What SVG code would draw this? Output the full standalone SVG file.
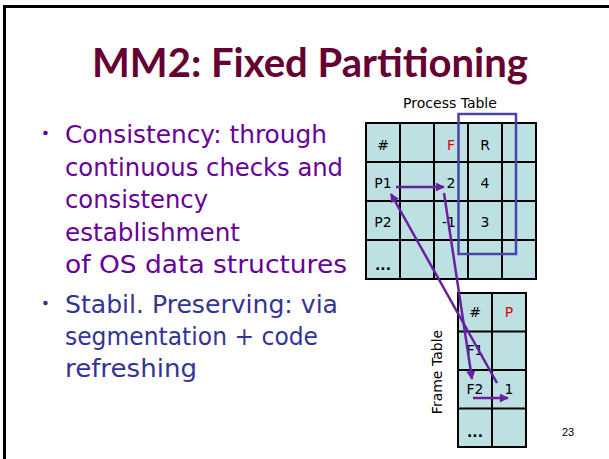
<svg xmlns="http://www.w3.org/2000/svg" width="609" height="459" viewBox="0 0 609 459">
  <style>
    .title { font-family: Lato, "DejaVu Sans", sans-serif; font-weight: bold; font-size: 41px; fill: #660033; }
    .b1 { font-family: "DejaVu Sans", "Liberation Sans", sans-serif; font-size: 24px; fill: #660099; }
    .b2 { font-family: "DejaVu Sans", "Liberation Sans", sans-serif; font-size: 24px; fill: #333399; }
    .cell { fill: #bde0e3; stroke: #000; stroke-width: 2; }
    .lbl { font-family: "DejaVu Sans", "Liberation Sans", sans-serif; font-size: 14px; fill: #000; text-anchor: middle; }
    .red { fill: #e00000; }
    .cap { font-family: "DejaVu Sans", "Liberation Sans", sans-serif; font-size: 14px; fill: #000; text-anchor: middle; }
    .arrow { stroke: #6a1fa0; stroke-width: 2.5; fill: none; marker-end: url(#head); }
  </style>
  <defs>
    <marker id="head" viewBox="0 0 10 10" refX="9" refY="5" markerWidth="4" markerHeight="3.6" orient="auto" markerUnits="strokeWidth">
      <path d="M0,0 L10,5 L0,10 Z" fill="#6a1fa0"/>
    </marker>
  </defs>

  <rect width="609" height="459" fill="#fff"/>
  <!-- slide frame -->
  <path d="M4.5,459 V6.5 H609" fill="none" stroke="#000" stroke-width="3"/>

  <text class="title" x="92" y="77" textLength="436" lengthAdjust="spacingAndGlyphs">MM2: Fixed Partitioning</text>

  <!-- bullet list -->
  <g id="bullets">
    <circle cx="45.5" cy="133" r="2.3" fill="#660099"/>
    <text class="b1" x="65" y="143" textLength="262" lengthAdjust="spacingAndGlyphs">Consistency: through</text>
    <text class="b1" x="65" y="176" textLength="278" lengthAdjust="spacingAndGlyphs">continuous checks and</text>
    <text class="b1" x="65" y="208" textLength="143" lengthAdjust="spacingAndGlyphs">consistency</text>
    <text class="b1" x="65" y="241" textLength="175" lengthAdjust="spacingAndGlyphs">establishment</text>
    <text class="b1" x="65" y="273" textLength="282" lengthAdjust="spacingAndGlyphs">of OS data structures</text>
    <circle cx="45.5" cy="303" r="2.3" fill="#333399"/>
    <text class="b2" x="65" y="313" textLength="273" lengthAdjust="spacingAndGlyphs">Stabil. Preserving: via</text>
    <text class="b2" x="65" y="345" textLength="253" lengthAdjust="spacingAndGlyphs">segmentation + code</text>
    <text class="b2" x="65" y="377" textLength="132" lengthAdjust="spacingAndGlyphs">refreshing</text>
  </g>

  <!-- process table -->
  <g id="process-table">
    <text class="cap" x="450" y="108">Process Table</text>
    <rect class="cell" x="366" y="123" width="170" height="156"/>
    <path d="M400,123 V279 M434,123 V279 M468,123 V279 M502,123 V279 M366,162 H536 M366,201 H536 M366,240 H536" stroke="#000" stroke-width="2" fill="none"/>
    <text class="lbl" x="383" y="150">#</text>
    <text class="lbl red" x="451" y="150">F</text>
    <text class="lbl" x="485" y="150">R</text>
    <text class="lbl" x="383" y="188">P1</text>
    <text class="lbl" x="451" y="188">2</text>
    <text class="lbl" x="485" y="188">4</text>
    <text class="lbl" x="383" y="227">P2</text>
    <text class="lbl" x="449" y="227">-1</text>
    <text class="lbl" x="485" y="227">3</text>
    <text class="lbl" x="383" y="270" font-weight="bold">...</text>
    <rect x="458.5" y="114" width="57.5" height="140" fill="none" stroke="#4a44aa" stroke-width="2.5"/>
  </g>

  <!-- frame table -->
  <g id="frame-table">
    <text class="cap" transform="translate(442,372) rotate(-90)">Frame Table</text>
    <rect class="cell" x="458" y="293" width="68" height="154"/>
    <path d="M492,293 V447 M458,331.5 H526 M458,370 H526 M458,408.5 H526" stroke="#000" stroke-width="2" fill="none"/>
    <text class="lbl" x="475" y="317">#</text>
    <text class="lbl red" x="509" y="317">P</text>
    <text class="lbl" x="475" y="355">F1</text>
    <text class="lbl" x="475" y="394">F2</text>
    <text class="lbl" x="509" y="394">1</text>
    <text class="lbl" x="475" y="437" font-weight="bold">...</text>
  </g>

  <g id="connectors">
    <line class="arrow" x1="396" y1="187" x2="444" y2="187"/>
    <line class="arrow" x1="444" y1="193" x2="472" y2="379"/>
    <line class="arrow" x1="497" y1="383" x2="391" y2="194"/>
    <line class="arrow" x1="473" y1="398" x2="508" y2="398"/>
  </g>

  <text x="568" y="436" font-family="Liberation Sans, sans-serif" font-size="11" fill="#000" text-anchor="middle">23</text>
</svg>
